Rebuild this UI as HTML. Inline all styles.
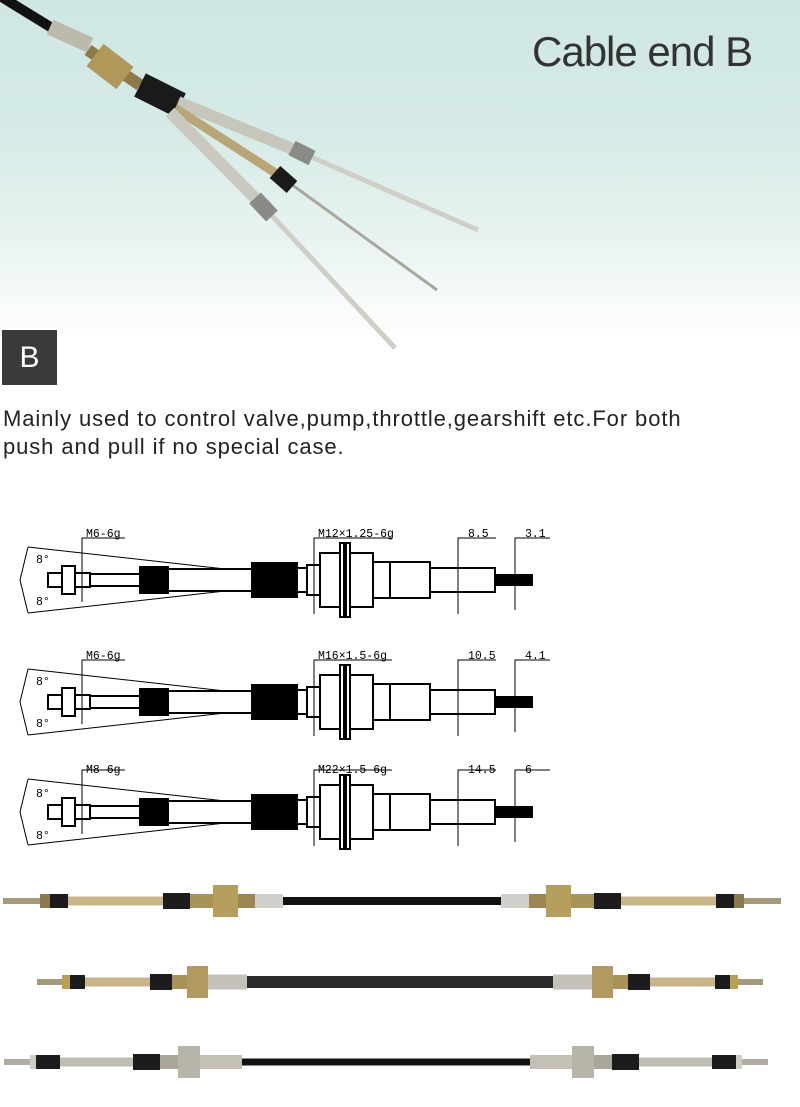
<!DOCTYPE html>
<html><head><meta charset="utf-8"><style>
body{margin:0;width:800px;height:1107px;overflow:hidden;background:#fff;font-family:"Liberation Sans",sans-serif;position:relative}
.top{position:absolute;left:0;top:0;width:800px;height:340px;background:linear-gradient(#cfe6e2 0%,#d6ebe7 40%,#e8f3f1 70%,#fff 100%)}
.title{position:absolute;left:532px;top:28px;font-size:42px;color:#333;letter-spacing:-1px}
.b{position:absolute;left:2px;top:330px;width:55px;height:55px;background:#3a3a3a;color:#fff;font-size:30px;text-align:center;line-height:55px}
.desc{position:absolute;left:3px;top:405px;font-size:22px;color:#222;line-height:28px;letter-spacing:0.9px}
svg{position:absolute;left:0;top:0}
.lb{font-family:"Liberation Mono",monospace;font-size:11.5px;fill:#000}
</style></head><body>
<div class="top"></div>
<svg id="s" width="800" height="1107">
<defs>
<g id="dw" fill="#fff" stroke="#000" stroke-width="2">
  <line x1="28" y1="-33" x2="252" y2="-8" stroke-width="1"/>
  <line x1="28" y1="33" x2="252" y2="8" stroke-width="1"/>
  <polyline points="28,-33 20,0 28,33" fill="none" stroke-width="1"/>
  <rect x="48" y="-7" width="42" height="14"/>
  <rect x="62" y="-14" width="13" height="28"/>
  <rect x="90" y="-6" width="50" height="12"/>
  <rect x="140" y="-13" width="28" height="26" fill="#000"/>
  <rect x="168" y="-11" width="84" height="22"/>
  <rect x="252" y="-17" width="45" height="34" fill="#000"/>
  <rect x="297" y="-12" width="10" height="24"/>
  <rect x="307" y="-15" width="13" height="30"/>
  <rect x="320" y="-27" width="20" height="54"/>
  <rect x="340" y="-37" width="4" height="74"/>
  <rect x="346" y="-37" width="4" height="74"/>
  <rect x="350" y="-27" width="23" height="54"/>
  <rect x="373" y="-18" width="17" height="36"/>
  <rect x="390" y="-18" width="40" height="36"/>
  <rect x="430" y="-12" width="65" height="24"/>
  <rect x="495" y="-5" width="37" height="10" fill="#000"/>
  <polyline points="82,22 82,-42 125,-42" fill="none" stroke-width="1"/>
  <polyline points="314,34 314,-42 392,-42" fill="none" stroke-width="1"/>
  <polyline points="458,34 458,-42 496,-42" fill="none" stroke-width="1"/>
  <polyline points="515,30 515,-42 550,-42" fill="none" stroke-width="1"/>
</g>
</defs>

<g stroke-linecap="butt">
<line x1="0" y1="-4" x2="52" y2="28" stroke="#111" stroke-width="10"/>
<line x1="50" y1="27" x2="90" y2="45" stroke="#bdb9ad" stroke-width="16"/>
<line x1="88" y1="50" x2="140" y2="85" stroke="#8d7a48" stroke-width="12"/>
<line x1="95" y1="55" x2="125" y2="78" stroke="#b0985a" stroke-width="28"/>
<line x1="140" y1="85" x2="180" y2="105" stroke="#1a1a1a" stroke-width="26"/>
<line x1="178" y1="102" x2="300" y2="152" stroke="#c6c6bd" stroke-width="12"/>
<line x1="300" y1="152" x2="478" y2="230" stroke="#cfcfc7" stroke-width="5"/>
<line x1="292" y1="148" x2="312" y2="158" stroke="#8a8a86" stroke-width="16"/>
<line x1="175" y1="108" x2="280" y2="176" stroke="#b8a678" stroke-width="9"/>
<line x1="280" y1="176" x2="437" y2="290" stroke="#aaa79c" stroke-width="3"/>
<line x1="275" y1="172" x2="292" y2="187" stroke="#1a1a1a" stroke-width="16"/>
<line x1="170" y1="112" x2="262" y2="205" stroke="#c9c9c0" stroke-width="12"/>
<line x1="262" y1="205" x2="395" y2="348" stroke="#cfcfc7" stroke-width="5"/>
<line x1="255" y1="198" x2="272" y2="216" stroke="#8a8a86" stroke-width="16"/>
</g>

<use href="#dw" y="580"/>
<text class="lb" x="86" y="537">M6-6g</text>
<text class="lb" x="318" y="537">M12×1.25-6g</text>
<text class="lb" x="468" y="537">8.5</text>
<text class="lb" x="525" y="537">3.1</text>
<text class="lb" x="36" y="563">8°</text>
<text class="lb" x="36" y="605">8°</text>

<use href="#dw" y="702"/>
<text class="lb" x="86" y="659">M6-6g</text>
<text class="lb" x="318" y="659">M16×1.5-6g</text>
<text class="lb" x="468" y="659">10.5</text>
<text class="lb" x="525" y="659">4.1</text>
<text class="lb" x="36" y="685">8°</text>
<text class="lb" x="36" y="727">8°</text>

<use href="#dw" y="812"/>
<text class="lb" x="86" y="773">M8-6g</text>
<text class="lb" x="318" y="773">M22×1.5-6g</text>
<text class="lb" x="468" y="773">14.5</text>
<text class="lb" x="525" y="773">6</text>
<text class="lb" x="36" y="797">8°</text>
<text class="lb" x="36" y="839">8°</text>
<g id="ph"></g>
</svg>
<div class="title">Cable end B</div>
<div class="b">B</div>
<div class="desc">Mainly used to control valve,pump,throttle,gearshift etc.For both<br>push and pull if no special case.</div>
<script>
var g=document.getElementById('ph'),NS='http://www.w3.org/2000/svg';
function r(x1,x2,y,h,c){var e=document.createElementNS(NS,'rect');e.setAttribute('x',Math.min(x1,x2));e.setAttribute('y',y-h/2);e.setAttribute('width',Math.abs(x2-x1));e.setAttribute('height',h);e.setAttribute('fill',c);g.appendChild(e);}
function cable(y,L,R,segs,mid,midc,midh){
 r(segs[segs.length-1][1],L+R-segs[segs.length-1][1],y,midh,midc);
 segs.forEach(function(s){var a=s[0]-L,b=s[1]-L;r(L+a,L+b,y,s[2],s[3]);r(R-a,R-b,y,s[2],s[3]);});
}
cable(901,3,781,[[3,40,6,'#a59a7a'],[40,50,14,'#8a7a50'],[50,68,14,'#1c1c1c'],[68,163,9,'#c8b58a'],[163,190,16,'#1c1c1c'],[190,213,14,'#a89458'],[213,238,32,'#b59e5e'],[238,255,14,'#9b8650'],[255,283,14,'#d0cfca']],0,'#111',8);
cable(982,37,763,[[37,62,6,'#a59a7a'],[62,70,14,'#b8a050'],[70,85,14,'#1c1c1c'],[85,150,9,'#c8b58a'],[150,172,16,'#1c1c1c'],[172,187,14,'#a89458'],[187,208,32,'#b09a62'],[208,247,15,'#c4c2b8']],0,'#2a2a2a',12);
cable(1062,4,768,[[4,30,6,'#b0aca4'],[30,36,14,'#d0ccc4'],[36,60,14,'#1c1c1c'],[60,133,9,'#c0bdb4'],[133,160,16,'#1c1c1c'],[160,178,14,'#aaa69c'],[178,200,32,'#b8b4aa'],[200,242,14,'#c4c0b6']],0,'#111',7);
</script>
</body></html>
